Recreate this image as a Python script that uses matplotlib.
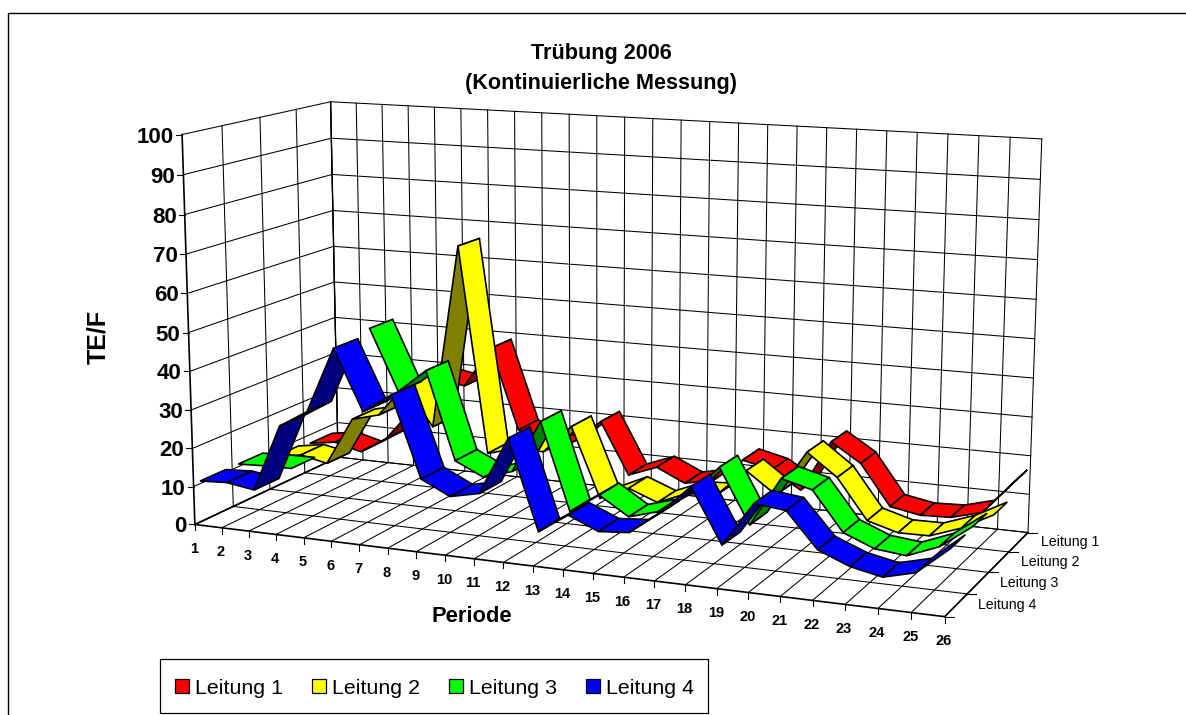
import numpy as np
import matplotlib
matplotlib.use("Agg")
import matplotlib.pyplot as plt
from matplotlib.patches import Polygon, Rectangle

plt.rcParams['font.family'] = ['Liberation Sans', 'DejaVu Sans']

nan = float('nan')
periods = list(range(1, 27))
series_names = ['Leitung 1', 'Leitung 2', 'Leitung 3', 'Leitung 4']
leitung1 = [7.6, 8.7, 6.8, 11.3, 19.9, 29.4, 28.0, 38.9, 17.4, 13.6, 15.7, 21.9, 8.3,
            11.2, 7.7, 9.4, 15.5, 13.7, 9.2, 22.6, 17.8, 7.4, 6.0, 6.3, 8.4, 17.1]
leitung2 = [8.3, 9.5, 8.0, 20.8, 22.7, 31.5, 21.0, 69.3, 15.4, 17.5, 17.4, 24.8, 6.7,
            10.2, 7.3, 10.5, 10.9, 18.0, 12.6, 24.3, 18.7, 8.6, 6.4, 6.5, 9.3, 13.5]
leitung3 = [10.7, 11.0, 11.1, nan, nan, 50.1, 34.4, 40.5, 17.9, 14.4, 16.7, 30.3, 8.0,
            13.1, 8.4, 10.6, 15.6, 23.4, 9.8, 22.2, 20.2, 10.5, 7.4, 6.6, 9.7, 15.5]
leitung4 = [10.7, 11.1, 10.0, 27.4, 31.8, 48.6, 33.3, 38.2, 17.7, 14.1, 15.7, 30.3, 7.8,
            12.8, 9.6, 10.2, 15.8, 23.2, 9.8, 20.8, 19.9, 11.3, 8.2, 6.6, 8.6, 15.2]
value_ticks = list(range(0, 101, 10))

bright = ['#FF0000', '#FFFF00', '#00FF00', '#0000FF']
dark = ['#800000', '#808000', '#008000', '#000080']

# camera: fitted from where the box corners and some ticks sit in the picture
WORLD = [(1, 0, 0), (26, 0, 0), (26, 4, 0), (1, 4, 0), (1, 0, 100), (1, 4, 100), (26, 4, 100),
         (14, 0, 0), (26, 1, 0), (26, 2, 0), (26, 3, 0)]
PIXEL = [(195, 522.7), (945, 617.7), (1028.3, 531), (338, 459), (182, 135), (330.7, 101), (1041.7, 139.3),
         (562.7, 570), (967.3, 594.3), (988.7, 572.3), (1008.3, 551.7)]


def solve_camera():
    rows = []
    for (x, y, z), (u, v) in zip(WORLD, PIXEL):
        X = [x / 26, y / 4, z / 100, 1]
        u /= 1000
        v /= 1000
        rows.append(X + [0, 0, 0, 0] + [-u * a for a in X])
        rows.append([0, 0, 0, 0] + X + [-v * a for a in X])
    return np.linalg.svd(np.array(rows))[2][-1].reshape(3, 4)


P = solve_camera()


def proj(p, d, v):
    h = P @ np.array([p / 26, d / 4, v / 100, 1])
    return (1000 * h[0] / h[2], 1000 * h[1] / h[2])


fig = plt.figure(figsize=(11.86, 7.15), dpi=100)
ax = fig.add_axes([0, 0, 1, 1])
ax.set_xlim(0, 1186)
ax.set_ylim(715, 0)
ax.axis('off')


def seg(a, b, lw=0.75):
    ax.plot([a[0], b[0]], [a[1], b[1]], color='black', lw=lw, solid_capstyle='projecting', zorder=1)


# chart frame, runs off the picture to the right and bottom
ax.add_patch(Rectangle((8, 13), 1300, 800, fc='white', ec='black', lw=1.0, zorder=0))

# grid on walls and floor
for p in periods:
    seg(proj(p, 0, 0), proj(p, 4, 0))
    seg(proj(p, 4, 0), proj(p, 4, 100))
for z in value_ticks:
    seg(proj(1, 0, z), proj(1, 4, z))
    seg(proj(1, 4, z), proj(26, 4, z))
for d in range(1, 5):
    seg(proj(1, d, 0), proj(26, d, 0))
    seg(proj(1, d, 0), proj(1, d, 100))
seg(proj(1, 0, 0), proj(1, 0, 100), 1.2)
seg(proj(1, 0, 0), proj(26, 0, 0), 1.2)
seg(proj(1, 0, 0), proj(1, 4, 0), 1.2)
seg(proj(26, 0, 0), proj(26, 4, 0), 1.2)
seg(proj(1, 4, 0), proj(1, 4, 100), 1.0)

# ticks and labels
for z in value_ticks:
    x, y = proj(1, 0, z)
    ax.plot([x - 6, x], [y, y], color='black', lw=0.8, zorder=1)
    ax.text(x - 8, y, str(z), ha='right', va='center_baseline', fontsize=16, fontweight='bold')
for p in periods:
    x, y = proj(p, 0, 0)
    ax.plot([x, x], [y, y + 6], color='black', lw=0.8, zorder=1)
    ax.text(x - 1, y + 23, str(p), ha='center', va='center_baseline', fontsize=10.5, fontweight='bold')
for d in range(0, 5):
    x, y = proj(26, d, 0)
    ax.plot([x, x + 9], [y, y], color='black', lw=0.8, zorder=1)
for d, name in zip([3, 2, 1, 0], series_names):
    x, y = proj(26, d + 0.5, 0)
    ax.text(x + 22, y - 1.5, name, ha='left', va='center_baseline', fontsize=10.2)

# ribbons, back one first; dark where the underside faces the viewer
all_series = [leitung1, leitung2, leitung3, leitung4]
for band, vals, c1, c2 in zip([3, 2, 1, 0], all_series, bright, dark):
    front = band + 1 / 6
    back = band + 5 / 6
    for i in range(len(periods) - 1):
        if np.isnan(vals[i]) or np.isnan(vals[i + 1]):
            continue
        q = np.array([proj(periods[i], front, vals[i]), proj(periods[i + 1], front, vals[i + 1]),
                      proj(periods[i + 1], back, vals[i + 1]), proj(periods[i], back, vals[i])])
        area = np.sum(q[:, 0] * np.roll(q[:, 1], -1) - np.roll(q[:, 0], -1) * q[:, 1])
        ax.add_patch(Polygon(q, fc=c1 if area < 0 else c2, ec='black', lw=1.2, joinstyle='miter', zorder=3))

# titles
ax.text(601, 53, 'Trübung 2006', ha='center', va='center', fontsize=15.6, fontweight='bold')
ax.text(601, 83, '(Kontinuierliche Messung)', ha='center', va='center', fontsize=15.6, fontweight='bold')
ax.text(98, 337, 'TE/F', rotation=90, ha='center', va='center', fontsize=18, fontweight='bold')
ax.text(472, 617, 'Periode', ha='center', va='center', fontsize=15.8, fontweight='bold')

# legend box
ax.add_patch(Rectangle((160, 659), 548, 54, fc='white', ec='black', lw=0.9, zorder=2))
for x, name, c in zip([175, 312, 449, 586], series_names, bright):
    ax.add_patch(Rectangle((x, 679), 14, 14, fc=c, ec='black', lw=0.9, zorder=3))
    ax.text(x + 20, 686, name, ha='left', va='center_baseline', fontsize=15.4, zorder=3)

fig.savefig('out.png', dpi=100)
